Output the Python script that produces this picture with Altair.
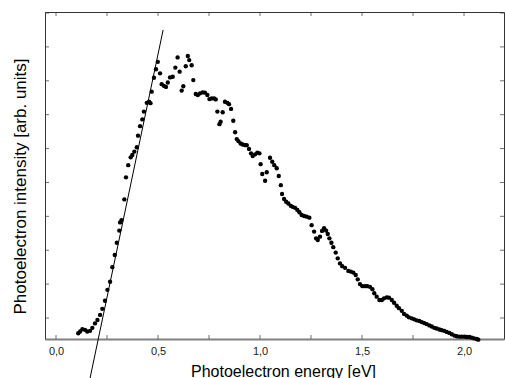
import altair as alt
import pandas as pd

# Photoelectron spectrum
energy = [0.109, 0.118, 0.129, 0.142, 0.153, 0.167, 0.178, 0.191, 0.203, 0.216,
          0.227, 0.240, 0.252, 0.265, 0.276, 0.288, 0.298, 0.310, 0.314, 0.321,
          0.335, 0.343, 0.354, 0.366, 0.374, 0.384, 0.396, 0.402, 0.412, 0.423,
          0.431, 0.445, 0.456, 0.463, 0.469, 0.480, 0.490, 0.499, 0.510, 0.518,
          0.529, 0.539, 0.548, 0.559, 0.572, 0.585, 0.596, 0.606, 0.616, 0.624,
          0.636, 0.646, 0.653, 0.665, 0.673, 0.685, 0.695, 0.706, 0.719, 0.730,
          0.742, 0.752, 0.763, 0.775, 0.783, 0.791, 0.801, 0.807, 0.817, 0.828,
          0.840, 0.848, 0.858, 0.869, 0.878, 0.886, 0.894, 0.905, 0.915, 0.927,
          0.935, 0.946, 0.956, 0.964, 0.976, 0.987, 0.997, 1.003, 1.011, 1.025,
          1.033, 1.049, 1.060, 1.070, 1.082, 1.092, 1.102, 1.108, 1.118, 1.128,
          1.139, 1.151, 1.160, 1.172, 1.183, 1.193, 1.204, 1.216, 1.229, 1.242,
          1.253, 1.265, 1.275, 1.283, 1.294, 1.304, 1.314, 1.324, 1.332, 1.340,
          1.350, 1.359, 1.371, 1.381, 1.392, 1.403, 1.417, 1.433, 1.445, 1.457,
          1.469, 1.479, 1.490, 1.502, 1.515, 1.526, 1.539, 1.551, 1.560, 1.572,
          1.585, 1.597, 1.608, 1.621, 1.632, 1.646, 1.657, 1.670, 1.681, 1.695,
          1.706, 1.719, 1.730, 1.744, 1.756, 1.768, 1.781, 1.793, 1.805, 1.817,
          1.830, 1.842, 1.854, 1.866, 1.879, 1.891, 1.903, 1.915, 1.928, 1.940,
          1.953, 1.964, 1.977, 1.989, 2.002, 2.013, 2.026, 2.038, 2.049, 2.062,
          2.070]
intensity = [-0.45, -0.40, -0.33, -0.35, -0.40, -0.38, -0.29, -0.16, -0.06, 0.09,
             0.27, 0.51, 0.83, 1.07, 1.50, 1.86, 2.22, 2.58, 2.82, 2.89,
             3.50, 4.15, 4.51, 4.74, 4.81, 4.91, 5.04, 5.38, 5.66, 5.86,
             6.09, 6.35, 6.38, 6.34, 6.68, 7.09, 7.34, 7.56, 7.22, 6.90,
             6.85, 6.82, 6.95, 7.10, 7.12, 7.39, 7.69, 7.27, 6.71, 6.84,
             7.43, 7.73, 7.61, 7.46, 7.02, 6.61, 6.58, 6.63, 6.66, 6.65,
             6.58, 6.46, 6.48, 6.48, 6.45, 6.09, 5.72, 5.79, 6.07, 6.38,
             6.35, 6.31, 6.17, 5.82, 5.48, 5.28, 5.22, 5.15, 5.12, 5.10,
             5.10, 4.99, 4.86, 4.78, 4.83, 4.88, 4.86, 4.54, 4.25, 4.05,
             4.30, 4.73, 4.61, 4.51, 4.42, 4.19, 3.92, 3.66, 3.51, 3.43,
             3.38, 3.31, 3.28, 3.25, 3.19, 3.12, 3.04, 3.01, 2.99, 2.96,
             2.74, 2.55, 2.35, 2.30, 2.40, 2.57, 2.65, 2.58, 2.48, 2.35,
             2.22, 2.09, 1.93, 1.76, 1.61, 1.53, 1.48, 1.39, 1.37, 1.34,
             1.27, 1.14, 1.00, 0.94, 0.94, 0.94, 0.92, 0.85, 0.73, 0.63,
             0.53, 0.53, 0.58, 0.61, 0.60, 0.53, 0.45, 0.36, 0.29, 0.21,
             0.12, 0.07, 0.02, -0.01, -0.04, -0.07, -0.09, -0.12, -0.15, -0.18,
             -0.22, -0.25, -0.29, -0.31, -0.34, -0.36, -0.38, -0.41, -0.44, -0.48,
             -0.52, -0.54, -0.55, -0.55, -0.55, -0.56, -0.56, -0.58, -0.60, -0.62,
             -0.64]

# Linear fit of the rising edge
fit_energy = [0.167, 0.525]
fit_intensity = [-1.77, 8.50]

# Axis ticks
x_ticks = [0.0, 0.25, 0.5, 0.75, 1.0, 1.25, 1.5, 1.75, 2.0]
x_labels = [0.0, 0.5, 1.0, 1.5, 2.0]
y_ticks = [0, 1, 2, 3, 4, 5, 6, 7, 8, 9]

W, H = 459, 327
FONT = "Liberation Sans"

pts = pd.DataFrame({"e": energy, "i": intensity})
fit = pd.DataFrame({"e": fit_energy, "i": fit_intensity})
xt = pd.DataFrame({"e": x_ticks})
yt = pd.DataFrame({"i": y_ticks})

xscale = alt.Scale(domain=[-0.054, 2.196], nice=False, zero=False)
yscale = alt.Scale(domain=[-0.62, 9.03], nice=False, zero=False)

xaxis = alt.Axis(
    values=x_labels,
    labelExpr="replace(format(datum.value, '.1f'), '.', ',')",
    ticks=False, grid=False,
    domainColor="#808080", domainWidth=2,
    labelFont=FONT, labelFontSize=11, labelColor="#222222", labelPadding=6,
    title="Photoelectron energy [eV]",
    titleFont=FONT, titleFontSize=16, titleFontWeight="normal", titleColor="black",
    titleX=238, titleY=37, titleAlign="center", titleBaseline="alphabetic",
)
yaxis = alt.Axis(
    labels=False, ticks=False, grid=False, domain=False,
    title="Photoelectron intensity [arb. units]",
    titleFont=FONT, titleFontSize=17, titleFontWeight="normal", titleColor="black",
    titleAngle=270, titleX=-20, titleY=174, titleAlign="center", titleBaseline="alphabetic",
)

X = alt.X("e:Q", scale=xscale, axis=xaxis)
Y = alt.Y("i:Q", scale=yscale, axis=yaxis)

dots = alt.Chart(pts).mark_circle(size=19, color="black", opacity=1).encode(x=X, y=Y)
line = alt.Chart(fit).mark_line(color="black", strokeWidth=1).encode(x=X, y=Y)

tick_color = "#333333"
bottom_t = alt.Chart(xt).mark_tick(orient="vertical", size=4, thickness=1, color=tick_color).encode(
    x=X, y=alt.value(H - 2))
top_t = alt.Chart(xt).mark_tick(orient="vertical", size=4, thickness=1, color=tick_color).encode(
    x=X, y=alt.value(2))
left_t = alt.Chart(yt).mark_tick(orient="horizontal", size=4, thickness=1, color=tick_color).encode(
    y=Y, x=alt.value(2))
right_t = alt.Chart(yt).mark_tick(orient="horizontal", size=4, thickness=1, color=tick_color).encode(
    y=Y, x=alt.value(W - 2))

chart = alt.layer(bottom_t, top_t, left_t, right_t, line, dots).properties(
    width=W, height=H,
    autosize=alt.AutoSizeParams(type="none"),
    padding={"left": 45, "top": 12, "right": 1, "bottom": 39},
    background="white",
).configure_view(stroke="#333333", strokeWidth=1)

chart.save("out.html", embed_options={"renderer": "svg", "actions": False})
